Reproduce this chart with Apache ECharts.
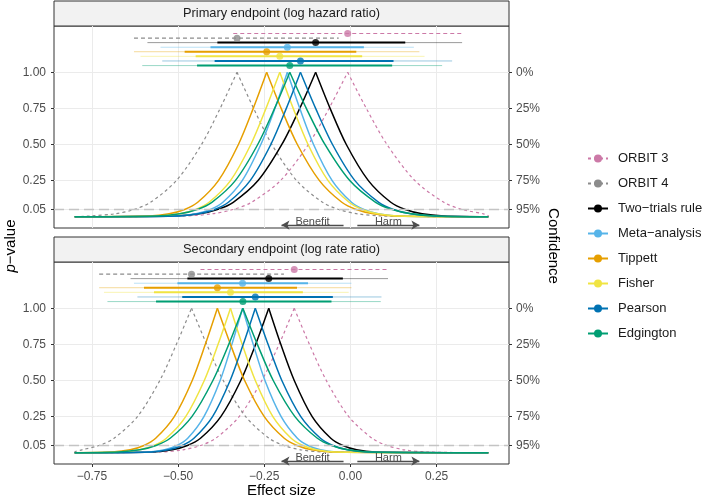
<!DOCTYPE html>
<html>
<head>
<meta charset="utf-8">
<script src="https://cdn.jsdelivr.net/npm/echarts@6/dist/echarts.min.js"></script>
<style>
  html, body { margin: 0; padding: 0; background: #fff; }
  #chart { width: 709px; height: 500px; }
</style>
</head>
<body>
<div id="chart"></div>
<script>
var methods = ['ORBIT 3', 'ORBIT 4', 'Two\u2212trials rule', 'Meta\u2212analysis', 'Tippett', 'Fisher', 'Pearson', 'Edgington'];
var methodColors = ['#CC79A7', '#8C8C8C', '#000000', '#56B4E9', '#E69F00', '#F0E442', '#0072B2', '#009E73'];

var xTicks = [-0.75, -0.5, -0.25, 0, 0.25];
var pTicks = [0.05, 0.25, 0.5, 0.75, 1];

// p-value levels for every curve point (left tail -> peak -> right tail)
var pLevels = [0, 0.005, 0.02, 0.05, 0.1, 0.25, 0.5, 0.75, 1, 0.75, 0.5, 0.25, 0.1, 0.05, 0.02, 0.005, 0];

// effect size where each curve reaches the levels above (order = methods)
var primaryCurves = [
  [-0.8, -0.483, -0.402, -0.34, -0.287, -0.203, -0.122, -0.062, -0.008, 0.046, 0.106, 0.187, 0.271, 0.324, 0.386, 0.4, 0.4],
  [-0.8, -0.757, -0.684, -0.628, -0.58, -0.505, -0.432, -0.378, -0.329, -0.281, -0.228, -0.156, -0.081, -0.034, 0.021, 0.093, 0.4],
  [-0.8, -0.509, -0.439, -0.386, -0.34, -0.268, -0.199, -0.147, -0.101, -0.059, -0.012, 0.052, 0.117, 0.159, 0.208, 0.271, 0.4],
  [-0.8, -0.502, -0.448, -0.406, -0.37, -0.314, -0.26, -0.219, -0.183, -0.147, -0.107, -0.053, 0.003, 0.039, 0.081, 0.135, 0.4],
  [-0.8, -0.584, -0.526, -0.481, -0.443, -0.383, -0.325, -0.282, -0.243, -0.201, -0.154, -0.09, -0.025, 0.017, 0.066, 0.129, 0.4],
  [-0.8, -0.554, -0.495, -0.449, -0.41, -0.348, -0.289, -0.245, -0.205, -0.166, -0.123, -0.065, -0.004, 0.034, 0.079, 0.137, 0.4],
  [-0.8, -0.502, -0.441, -0.394, -0.354, -0.291, -0.231, -0.186, -0.145, -0.101, -0.052, 0.013, 0.082, 0.125, 0.175, 0.242, 0.4],
  [-0.8, -0.561, -0.495, -0.445, -0.402, -0.334, -0.269, -0.22, -0.176, -0.128, -0.074, -0.002, 0.073, 0.121, 0.177, 0.249, 0.4]
];
var secondaryCurves = [
  [-0.8, -0.553, -0.486, -0.435, -0.391, -0.323, -0.257, -0.207, -0.163, -0.119, -0.07, -0.005, 0.063, 0.106, 0.156, 0.222, 0.4],
  [-0.8, -0.8, -0.779, -0.729, -0.686, -0.618, -0.553, -0.505, -0.461, -0.417, -0.369, -0.304, -0.236, -0.193, -0.143, -0.077, 0.4],
  [-0.8, -0.575, -0.517, -0.473, -0.435, -0.376, -0.318, -0.275, -0.237, -0.202, -0.163, -0.111, -0.057, -0.022, 0.018, 0.071, 0.4],
  [-0.8, -0.585, -0.539, -0.503, -0.472, -0.425, -0.378, -0.344, -0.313, -0.282, -0.248, -0.201, -0.154, -0.123, -0.087, -0.041, 0.4],
  [-0.8, -0.691, -0.639, -0.599, -0.565, -0.511, -0.459, -0.421, -0.386, -0.348, -0.307, -0.25, -0.192, -0.155, -0.112, -0.055, 0.4],
  [-0.8, -0.666, -0.612, -0.57, -0.534, -0.478, -0.424, -0.384, -0.348, -0.314, -0.276, -0.225, -0.172, -0.138, -0.099, -0.047, 0.4],
  [-0.8, -0.58, -0.528, -0.488, -0.454, -0.4, -0.349, -0.311, -0.276, -0.239, -0.199, -0.144, -0.087, -0.051, -0.009, 0.046, 0.4],
  [-0.8, -0.673, -0.611, -0.564, -0.523, -0.46, -0.399, -0.353, -0.312, -0.27, -0.224, -0.161, -0.096, -0.055, -0.007, 0.056, 0.4]
];

// point estimates and intervals (thick = 95%, thin = wider interval)
var primaryEst = [-0.008, -0.329, -0.101, -0.183, -0.243, -0.205, -0.145, -0.176];
var primaryLo = [-0.34, -0.628, -0.386, -0.406, -0.481, -0.449, -0.394, -0.445];
var primaryHi = [0.324, -0.034, 0.159, 0.039, 0.017, 0.034, 0.125, 0.121];
var primaryLoWide = [null, null, -0.589, -0.551, -0.628, -0.609, -0.546, -0.604];
var primaryHiWide = [null, null, 0.324, 0.184, 0.2, 0.215, 0.295, 0.266];

var secondaryEst = [-0.163, -0.461, -0.237, -0.313, -0.386, -0.348, -0.276, -0.312];
var secondaryLo = [-0.435, -0.729, -0.473, -0.502, -0.599, -0.57, -0.488, -0.564];
var secondaryHi = [0.106, -0.193, -0.022, -0.123, -0.155, -0.138, -0.051, -0.055];
var secondaryLoWide = [null, null, -0.638, -0.628, -0.729, -0.715, -0.618, -0.705];
var secondaryHiWide = [null, null, 0.109, 0.003, 0.003, -0.005, 0.09, 0.088];

var benefitArrow = [-0.2, -0.02];
var harmArrow = [0.02, 0.2];
var thresholdP = 0.05;

// layout only: vertical slot of each interval row above the curves
var rowP = [1.268, 1.236, 1.205, 1.173, 1.142, 1.11, 1.078, 1.046];
var arrowP = -0.058;

var font = '"Liberation Sans", Arial, Helvetica, sans-serif';

function fade(hex, a) {
  var n = parseInt(hex.slice(1), 16);
  return 'rgba(' + ((n >> 16) & 255) + ',' + ((n >> 8) & 255) + ',' + (n & 255) + ',' + a + ')';
}

function panelSeries(gi, curves, est, lo, hi, loW, hiW) {
  var out = [];
  var yi = gi * 2;

  // reference line and benefit / harm arrows
  out.push({
    type: 'line', xAxisIndex: gi, yAxisIndex: yi, data: [], silent: true, z: 1,
    markLine: {
      silent: true, animation: false, symbol: 'none',
      data: [
        { yAxis: thresholdP, label: { show: false },
          lineStyle: { color: '#C4C4C4', width: 1.4, type: [10, 5] } },
        [
          { name: 'Benefit', coord: [benefitArrow[0], arrowP], symbol: 'arrow', symbolSize: [7, 8] },
          { coord: [benefitArrow[1], arrowP], symbol: 'none' }
        ],
        [
          { name: 'Harm', coord: [harmArrow[0], arrowP], symbol: 'none' },
          { coord: [harmArrow[1], arrowP], symbol: 'arrow', symbolSize: [7, 8] }
        ]
      ],
      lineStyle: { color: '#4D4D4D', width: 1.3, type: 'solid' },
      label: { show: true, position: 'middle', formatter: '{b}', color: '#4D4D4D',
        fontSize: 11, fontFamily: font, distance: -2 }
    }
  });

  methods.forEach(function (name, i) {
    var color = methodColors[i];
    var dashed = i < 2;
    var left = [], right = [];
    curves[i].forEach(function (x, k) {
      if (k <= 8) left.push([x, pLevels[k]]);
      if (k >= 8) right.push([x, pLevels[k]]);
    });
    [left, right].forEach(function (half) {
      out.push({
        name: name, type: 'line', xAxisIndex: gi, yAxisIndex: yi, data: half,
        smooth: 0.3, showSymbol: false, symbol: 'circle', z: 3,
        lineStyle: { color: color, width: dashed ? 1.2 : 1.5, type: dashed ? [3, 3] : 'solid' },
        itemStyle: { color: color }
      });
    });
  });

  methods.forEach(function (name, i) {
    var color = methodColors[i];
    var dashed = i < 2;
    if (loW[i] !== null) {
      out.push({
        name: name, type: 'line', xAxisIndex: gi, yAxisIndex: yi, showSymbol: false, z: 4,
        data: [[loW[i], rowP[i]], [hiW[i], rowP[i]]],
        lineStyle: { color: fade(color, 0.4), width: 1 }
      });
    }
    out.push({
      name: name, type: 'line', xAxisIndex: gi, yAxisIndex: yi, showSymbol: false, z: 4,
      data: [[lo[i], rowP[i]], [hi[i], rowP[i]]],
      lineStyle: { color: color, width: dashed ? 1.2 : 2, type: dashed ? [4, 3] : 'solid' }
    });
    out.push({
      name: name, type: 'scatter', xAxisIndex: gi, yAxisIndex: yi, z: 5,
      data: [[est[i], rowP[i]]], symbolSize: 7, itemStyle: { color: color }
    });
  });
  return out;
}

function xAxisFor(gi) {
  return {
    type: 'value', gridIndex: gi, min: -0.86, max: 0.46,
    axisLine: { show: false, onZero: false },
    axisTick: { show: gi === 1, customValues: xTicks, length: 3, lineStyle: { color: '#333' } },
    axisLabel: {
      show: gi === 1, customValues: xTicks, margin: 7, color: '#4D4D4D', fontSize: 12, fontFamily: font,
      formatter: function (v) { return v.toFixed(2).replace('-', '\u2212'); }
    },
    splitLine: { show: true, lineStyle: { color: '#EBEBEB', width: 1 } }
  };
}

function yAxesFor(gi) {
  var base = {
    type: 'value', gridIndex: gi, min: -0.078, max: 1.32,
    axisLine: { show: false, onZero: false },
    axisTick: { show: true, customValues: pTicks, length: 3, lineStyle: { color: '#333' } }
  };
  var left = Object.assign({}, base, {
    position: 'left',
    axisLabel: { customValues: pTicks, margin: 8, color: '#4D4D4D', fontSize: 12, fontFamily: font,
      formatter: function (v) { return v.toFixed(2); } },
    splitLine: { show: true, lineStyle: { color: '#EBEBEB', width: 1 } }
  });
  var right = Object.assign({}, base, {
    position: 'right',
    axisLabel: { customValues: pTicks, margin: 7, color: '#4D4D4D', fontSize: 12, fontFamily: font,
      formatter: function (v) { return Math.round((1 - v) * 100) + '%'; } },
    splitLine: { show: false }
  });
  return [left, right];
}

var chart = echarts.init(document.getElementById('chart'));

var series = panelSeries(0, primaryCurves, primaryEst, primaryLo, primaryHi, primaryLoWide, primaryHiWide)
  .concat(panelSeries(1, secondaryCurves, secondaryEst, secondaryLo, secondaryHi, secondaryLoWide, secondaryHiWide));

var titleFont = { fontSize: 15, fontFamily: font, fill: '#000' };

chart.setOption({
  animation: false,
  grid: [
    { left: 54, top: 26, width: 455, height: 202, show: true, borderColor: '#333', borderWidth: 1, backgroundColor: '#fff' },
    { left: 54, top: 262, width: 455, height: 202, show: true, borderColor: '#333', borderWidth: 1, backgroundColor: '#fff' }
  ],
  xAxis: [xAxisFor(0), xAxisFor(1)],
  yAxis: yAxesFor(0).concat(yAxesFor(1)),
  legend: {
    data: methods, orient: 'vertical', left: 582, top: 147,
    itemWidth: 20, itemHeight: 10, itemGap: 12, selectedMode: false,
    textStyle: { fontSize: 13, fontFamily: font, color: '#1A1A1A', padding: [0, 0, 0, 5] }
  },
  graphic: [
    { type: 'rect', shape: { x: 54, y: 1, width: 455, height: 25 }, style: { fill: '#F2F2F2', stroke: '#333', lineWidth: 1 } },
    { type: 'text', x: 281.5, y: 13.5, style: { text: 'Primary endpoint (log hazard ratio)', fontSize: 12.8, fontFamily: font, fill: '#1A1A1A', align: 'center', verticalAlign: 'middle' } },
    { type: 'rect', shape: { x: 54, y: 237, width: 455, height: 25 }, style: { fill: '#F2F2F2', stroke: '#333', lineWidth: 1 } },
    { type: 'text', x: 281.5, y: 249.5, style: { text: 'Secondary endpoint (log rate ratio)', fontSize: 12.8, fontFamily: font, fill: '#1A1A1A', align: 'center', verticalAlign: 'middle' } },
    { type: 'text', x: 11, y: 246, rotation: Math.PI / 2,
      style: { text: '{i|p}{n|\u2212value}', fontSize: 15, fontFamily: font, fill: '#000', align: 'center', verticalAlign: 'middle',
        rich: { i: { fontStyle: 'italic', fontSize: 15, fontFamily: font }, n: { fontSize: 15, fontFamily: font } } } },
    { type: 'text', x: 553, y: 246, rotation: -Math.PI / 2,
      style: Object.assign({ text: 'Confidence', align: 'center', verticalAlign: 'middle' }, titleFont) },
    { type: 'text', x: 281.5, y: 491,
      style: Object.assign({ text: 'Effect size', align: 'center', verticalAlign: 'middle' }, titleFont) }
  ],
  series: series
});
</script>
</body>
</html>
